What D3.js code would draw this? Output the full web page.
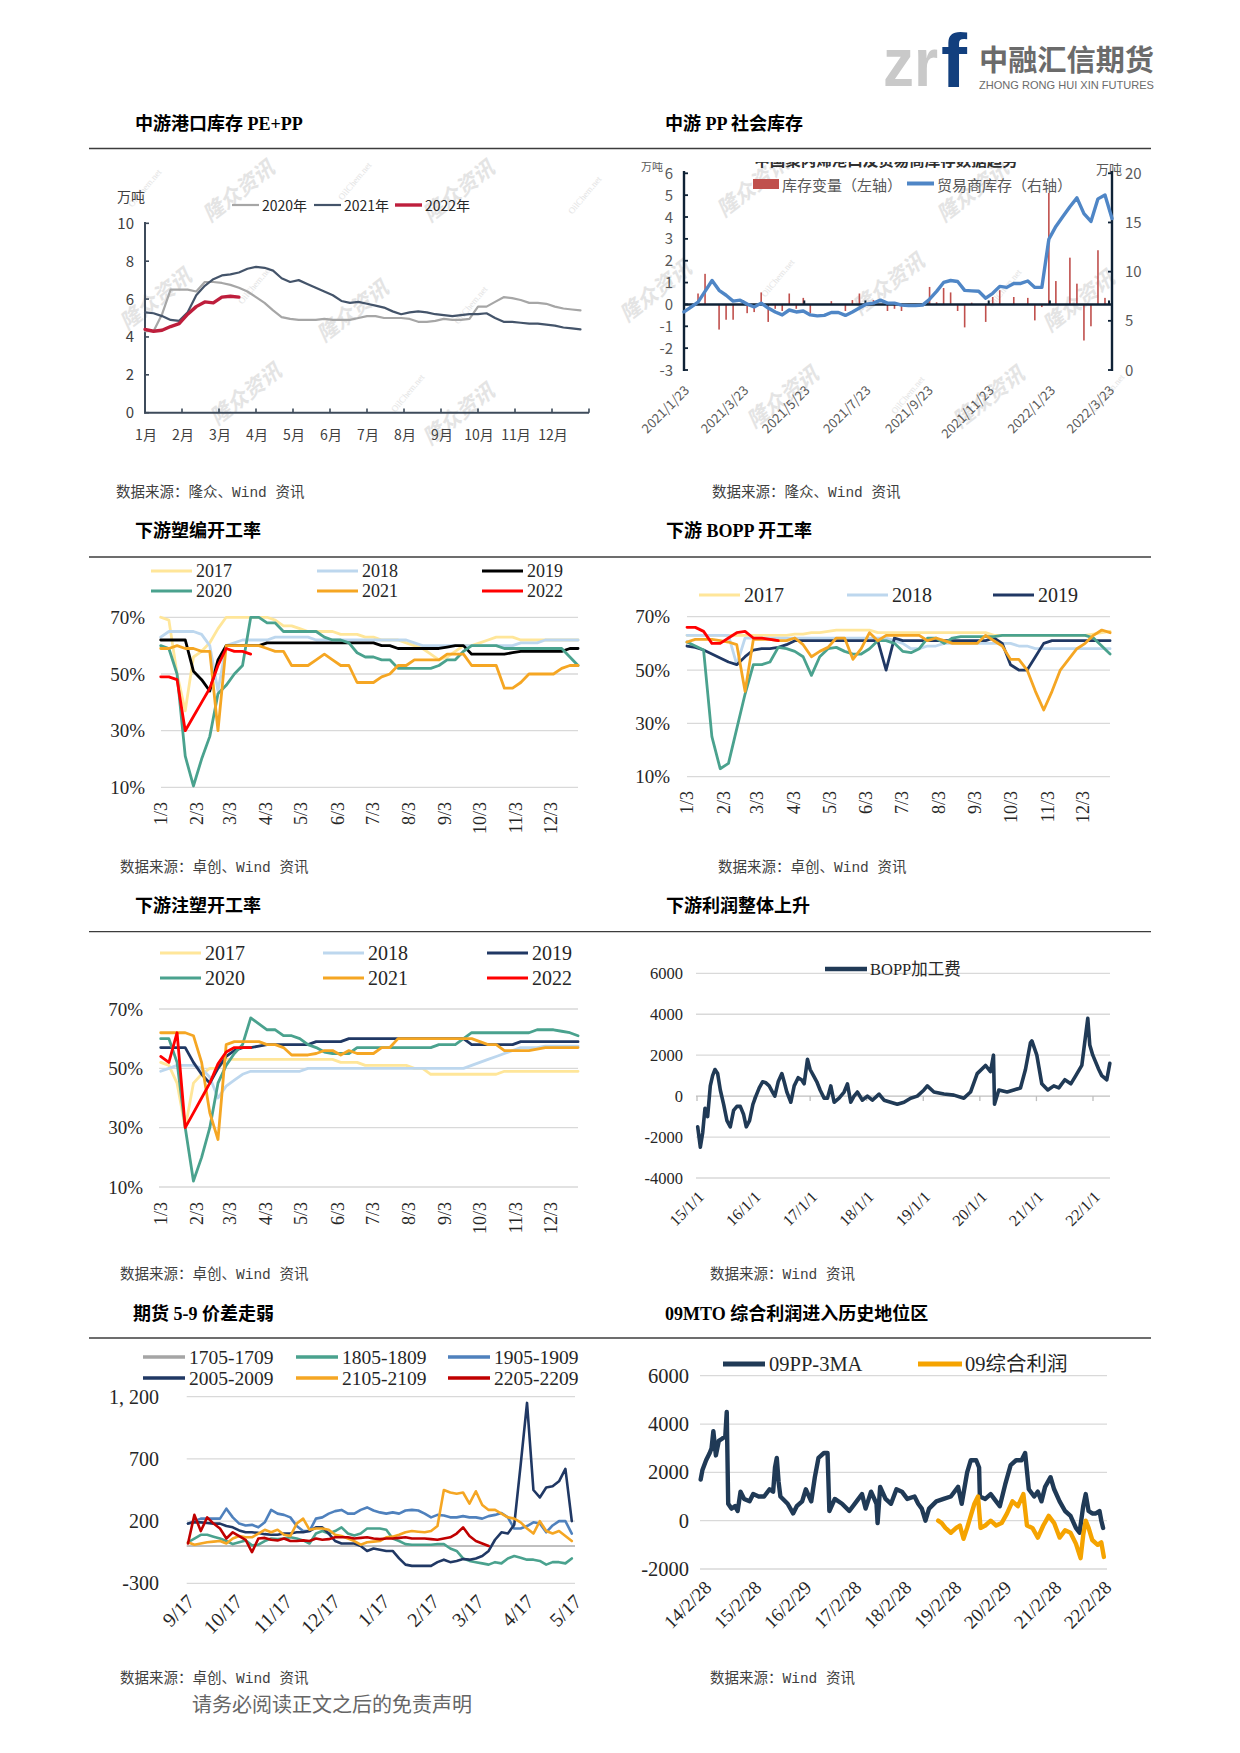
<!DOCTYPE html>
<html><head><meta charset="utf-8"><title>PP</title>
<script src="https://cdn.jsdelivr.net/npm/d3@7/dist/d3.min.js"></script>
<style>html,body{margin:0;padding:0;background:#fff}svg{display:block}</style>
</head><body>
<svg id="page" width="1240" height="1753" viewBox="0 0 1240 1753"></svg>
<script>
// ---------------- DATA ----------------
// Chart 1: 中游港口库存 PE+PP (weekly, 万吨)
const c1Months = ["1月","2月","3月","4月","5月","6月","7月","8月","9月","10月","11月","12月"];
const c1Ticks = [0,2,4,6,8,10];
const c1Y2020 = [4.3,4.3,5.2,6.5,6.5,6.5,6.4,6.9,6.9,6.85,6.75,6.6,6.4,6.1,5.8,5.4,5.05,4.95,4.9,4.9,4.9,4.95,4.9,4.9,4.9,5.0,5.1,5.1,5.0,5.0,5.0,4.95,4.8,4.8,4.85,4.95,4.9,4.9,4.95,5.6,5.6,5.85,6.1,6.05,5.95,5.8,5.8,5.75,5.6,5.5,5.45,5.4];
const c1Y2021 = [5.3,5.25,5.1,4.9,4.85,5.3,6.2,6.7,7.05,7.25,7.3,7.4,7.6,7.7,7.65,7.5,7.1,6.9,7.0,6.8,6.6,6.4,6.2,5.9,5.8,5.85,5.75,5.65,5.55,5.35,5.2,5.3,5.35,5.3,5.2,5.15,5.1,5.15,5.2,5.2,5.25,5.0,4.8,4.8,4.75,4.7,4.7,4.65,4.6,4.5,4.45,4.4];
const c1Y2022 = [4.4,4.3,4.35,4.55,4.7,5.2,5.6,5.85,5.8,6.1,6.15,6.1];

// Chart 2: 中游 PP 社会库存 (weekly from 2021/1/23)
const c2Start = "2021-01-23";
const c2DateLabels = ["2021/1/23","2021/3/23","2021/5/23","2021/7/23","2021/9/23","2021/11/23","2022/1/23","2022/3/23"];
const c2LeftTicks = [6,5,4,3,2,1,0,-1,-2,-3];
const c2RightTicks = [20,15,10,5,0];
const c2Stock = [5.9,6.4,6.9,8.0,9.1,8.1,7.6,7.0,7.1,6.7,6.4,6.8,6.3,5.9,5.6,6.1,5.9,6.0,5.6,5.5,5.55,5.85,5.85,5.55,5.9,6.3,6.7,6.8,7.1,6.8,6.8,6.6,6.55,6.55,6.6,7.2,8.0,8.9,9.1,9.0,8.1,8.05,8.0,7.3,7.8,8.5,8.4,8.8,8.8,9.05,8.4,8.4,13.3,14.6,15.6,16.6,17.5,15.9,15.1,17.4,17.8,15.4];
const c2Change = [0,0,0.5,1.4,0,-1.15,-0.7,-0.7,0,-0.4,-0.35,0.55,-0.8,-0.2,-0.3,0.5,-0.2,0.3,-0.4,0,0,0.15,0,-0.3,0.2,0.5,0,0.2,0,-0.3,-0.2,-0.3,0,0,0,0.8,0.1,0.75,0.55,-0.3,-1.05,0.08,0,-0.8,0.34,0.65,0,0.34,0,0.3,-0.73,-0.12,5.1,1.07,0,2.14,0.95,-1.65,-1.0,2.48,0.3,0];

// Charts 3-5: weekly operating rates from 1/3 (%)
const mdLabels = ["1/3","2/3","3/3","4/3","5/3","6/3","7/3","8/3","9/3","10/3","11/3","12/3"];
const rateTicks = [10,30,50,70];
const yearNames = ["2017","2018","2019","2020","2021","2022"];
const c3_2017 = [70,69,50,37,56,58,61,66,70,70,70,70,70,70,69,67,67,66,65,65,65,65,64,64,64,63,63,62,62,62,61,60,59,57,55,56,58,60,60,61,62,63,63,63,62,62,62,62,62,62,62,62];
const c3_2018 = [63,65,65,65,65,64,60,44,60,61,62,62,62,62,63,63,63,63,63,62,62,62,62,62,62,62,62,62,62,62,62,61,60,60,60,60,60,60,60,60,60,60,60,60,61,61,61,62,62,62,62,62];
const c3_2019 = [62,62,62,62,51,48,44,55,60,60,60,60,60,61,61,61,61,61,61,61,61,61,61,61,61,61,61,60,60,59,59,59,59,59,59,59.5,60,60,57,57,57,57,57,57.5,58,58,58,58,58,58,59,59];
const c3_2020 = [60,59,50,21,10.5,20,28,43,46,50,53,70,70,68,68,65,65,65,65,65,63,62,62,61,57.5,56,56,55,55,52,52,52,52,52,53,55,55,58,60,60,60,60,59,59,59,59,59,59,59,59,56,53];
const c3_2021 = [59,59,60,59,59,58,58,30,60,60,60,60,60,59,58,58,53,53,53,55,57,55,53,53,47,47,47,49,50,53,53,55,55,55,55,57,57,57,53,53,53,53,45,45,47,50,50,50,50,52,53,53];
const c3_2022 = [49,49,48,30,35,40,45,53,59,58,58,57];

const c4_2017 = [63,63,63,63,63,63,63,63,63,63,63,63,63,63.5,63.5,64,64,64.5,65,65,65,65,65,64,64,64,64,64,64,64,64,64,64,64,64,64,64,63,63,63,63,63,63,63,63,63,63,63,63,63.5,64,64.5];
const c4_2018 = [63,63,63,63,63,63,52,62,62,62,62,62,62,62,62,62,62,62,62,62,62,62,62,62,62,61,60,58,58,59,59,60,60,60,60,60,60,60,60,60,59,59,58,58,58,58,58,58,58,58,58,58];
const c4_2019 = [59,58.5,57.5,56,54.5,53,52,55,57.5,58,58,58.5,59.5,61,61,61,61,61,61,61,61,61,61,61,50,62,61,61,61,61,61,61,61,61,61,61,61,62,60,52,50,50,55,60,61,61,61,61,61,61,61,61];
const c4_2020 = [60.5,59,57.5,25,13,15,28,41,52,52,53,58.5,58,57,55,48,55,58,58.5,57,56,56,58,61,61,60,57,56.5,58,62,62,60,62,62.5,62.5,62.5,62.5,62.5,63,63,63,63,63,63,63,63,63,63,63,62,59,56];
const c4_2021 = [60.5,61.5,61.5,61.5,61,60.5,59.5,42,61.5,61.5,61.5,61,61,62,59.5,55,57,58.5,62,62,54,58,64,61,63,63,63,63,63,61,62,61,60,60,60,60,63,61,59,54,54,50,42,35,42,50,54,58,60,63,65,64];
const c4_2022 = [66,66,64.5,60,60,62,64,64.5,62,62,61.5,61];

const c5_2017 = [52,51,45,30,45,48,50,50,53,53,53,53,53,53,53,53,53,53,53,53,53,53,52,52,52,51,51,51,51,51,51,50,50,48,48,48,48,48,48,48,48,48,49,49,49,49,49,49,49,49,49,49];
const c5_2018 = [49,50,51,51,51,50,47,40,44,46,48,49,49,49,49,49,49,49,50,50,50,50,50,50,50,50,50,50,50,50,50,50,50,50,50,50,50,50,51,52,53,54,55,56,57,57,57,57.5,57.5,57.5,57.5,57.5];
const c5_2019 = [57,57,57,57,52,48,45,50,54,56,57,57,57.5,58,58,58,58,58,58,59,59,59,59,60,60,60,60,60,60,60,60,60,60,60,60,60,60,60,58,58,58,58,58,58,59,59,59,59,59,59,59,59];
const c5_2020 = [60,60,52,30,12,20,30,45,51,55,58,67,65,63,63,61,61,60,58,57,55.5,55,55,55,57,57,57,57,57,57,57,57,57,57,58,58,58,60,62,62,62,62,62,62,62,62,63,63,63,62.5,62,61];
const c5_2021 = [62,62,62,62,61,52,35,26,58,59,59,59,59,58,58,57,54.5,54.5,54.5,55,56,56,54.5,56,55,55,55,57,57,60,60,60,60,60,60,60,60,60,60,59,58,58,56,56,56,56,56.5,57,57,57,57,57];
const c5_2022 = [54,52,62,30,35,40,45,51.5,55.5,57,57,57];

// Chart 6: BOPP加工费 (time in decimal years, value)
const c6Labels = ["15/1/1","16/1/1","17/1/1","18/1/1","19/1/1","20/1/1","21/1/1","22/1/1"];
const c6Ticks = [-4000,-2000,0,2000,4000,6000];
const c6T = [2015.012,2015.059,2015.100,2015.141,2015.188,2015.235,2015.276,2015.318,2015.365,2015.412,2015.471,2015.529,2015.588,2015.647,2015.706,2015.765,2015.824,2015.871,2015.929,2015.988,2016.041,2016.100,2016.159,2016.218,2016.276,2016.335,2016.376,2016.435,2016.500,2016.541,2016.588,2016.659,2016.718,2016.788,2016.847,2016.894,2016.953,2017.000,2017.059,2017.118,2017.176,2017.247,2017.306,2017.365,2017.424,2017.512,2017.600,2017.659,2017.718,2017.776,2017.835,2017.924,2018.012,2018.100,2018.218,2018.306,2018.424,2018.541,2018.659,2018.776,2018.894,2019.012,2019.071,2019.188,2019.365,2019.541,2019.718,2019.835,2019.953,2020.100,2020.188,2020.241,2020.259,2020.335,2020.482,2020.600,2020.718,2020.806,2020.894,2020.920,2021.007,2021.095,2021.201,2021.307,2021.396,2021.502,2021.608,2021.696,2021.802,2021.908,2021.943,2021.996,2022.102,2022.155,2022.244,2022.297];
const c6V = [-1500,-2500,-1800,-600,-1000,500,1000,1300,1100,300,-400,-1200,-1500,-700,-500,-500,-900,-1500,-1200,-400,0,400,700,650,500,200,0,700,1100,700,200,-300,500,900,800,600,1800,1300,1000,700,300,-100,-100,500,-300,-100,200,600,-300,0,200,-200,0,-200,100,-200,-300,-400,-300,-100,0,300,500,200,100,50,-100,200,1100,1500,1200,2000,-400,300,200,300,400,1300,2600,2700,2000,600,300,500,400,800,600,1000,1500,3800,2500,2000,1300,1000,800,1600];

// Chart 7: 期货 5-9 价差 (every 4 days from 9/17)
const c7Start = "2021-09-17";
const c7Labels = ["9/17","10/17","11/17","12/17","1/17","2/17","3/17","4/17","5/17"];
const c7Ticks = [-300,200,700,1200];
const s1705 = [];
const s1805 = [30,60,90,90,75,60,40,15,30,45,5,10,40,60,55,60,70,60,45,20,100,120,100,120,150,100,85,100,140,140,140,130,60,40,15,10,10,10,10,15,15,-20,-40,-100,-120,-130,-140,-150,-130,-140,-100,-80,-95,-110,-110,-120,-150,-130,-130,-140,-100];
const s1905 = [180,200,220,220,220,220,300,230,180,165,170,150,190,290,260,250,230,160,120,120,220,230,260,280,290,260,260,290,310,285,270,260,270,260,285,290,285,260,230,250,245,230,230,240,230,230,220,240,250,265,230,140,140,160,190,180,110,165,200,200,100];
const s2005 = [180,190,190,185,180,180,160,150,125,110,110,105,95,90,90,100,100,110,110,120,150,150,100,40,20,20,20,0,-40,-20,-30,-40,-40,-100,-150,-160,-160,-160,-160,-130,-110,-130,-120,-105,-110,-100,-80,-40,50,110,100,170,650,1150,450,390,470,480,520,620,200];
const s2105 = [30,10,20,30,35,40,20,60,80,70,70,100,130,110,130,90,80,180,220,130,140,140,130,90,80,60,40,10,30,35,40,70,75,90,110,120,115,110,120,160,450,430,420,430,340,440,330,290,290,260,230,220,190,140,100,200,120,100,120,80,40];
const s2205 = [20,250,120,230,180,140,60,110,80,50,-50,60,65,50,45,60,40,40,45,40,60,50,55,70,70,70,60,65,70,60,55,60,60,65,70,60,60,60,55,50,60,70,100,150,80,40,20,0];

// Chart 8: 09MTO (decimal years)
const c8Labels = ["14/2/28","15/2/28","16/2/29","17/2/28","18/2/28","19/2/28","20/2/29","21/2/28","22/2/28"];
const c8Ticks = [-2000,0,2000,4000,6000];
const n8T = [2014.073,2014.109,2014.182,2014.254,2014.291,2014.327,2014.378,2014.436,2014.508,2014.566,2014.595,2014.624,2014.689,2014.762,2014.813,2014.871,2014.943,2015.052,2015.124,2015.233,2015.342,2015.451,2015.523,2015.560,2015.596,2015.632,2015.668,2015.813,2015.922,2015.995,2016.103,2016.176,2016.285,2016.357,2016.430,2016.539,2016.611,2016.647,2016.756,2016.901,2017.046,2017.191,2017.300,2017.372,2017.481,2017.590,2017.612,2017.663,2017.771,2017.880,2017.989,2018.098,2018.206,2018.351,2018.424,2018.496,2018.569,2018.641,2018.787,2018.932,2019.077,2019.222,2019.294,2019.403,2019.475,2019.584,2019.642,2019.657,2019.766,2019.874,2019.983,2020.056,2020.164,2020.273,2020.382,2020.491,2020.563,2020.636,2020.744,2020.817,2020.889,2020.962,2021.071,2021.143,2021.252,2021.361,2021.470,2021.578,2021.651,2021.724,2021.774,2021.832,2021.905,2021.977,2022.050,2022.086,2022.122];
const n8V = [1700,2100,2500,2800,3000,3700,2700,3300,3400,3500,4500,700,500,600,400,1200,900,800,1100,1000,1000,1300,1200,2200,2600,1600,1000,700,300,600,800,1300,800,1800,2600,2800,2800,400,900,700,400,800,1100,500,1200,700,-100,1400,900,700,1300,1200,900,1000,700,500,0,500,800,900,1000,1400,700,2000,2500,2500,2200,1000,900,1100,800,600,1500,2300,2500,2500,2800,1300,1000,1200,800,1400,1800,1300,800,400,200,-300,-500,600,1100,400,300,300,400,0,-300];
const o8T = [2018.823,2018.895,2018.968,2019.077,2019.185,2019.258,2019.330,2019.403,2019.475,2019.548,2019.620,2019.671,2019.766,2019.874,2019.983,2020.092,2020.201,2020.309,2020.418,2020.527,2020.599,2020.708,2020.817,2020.926,2021.034,2021.143,2021.252,2021.361,2021.470,2021.578,2021.672,2021.724,2021.774,2021.832,2021.905,2022.013,2022.086,2022.137];
const o8V = [0,-100,-300,-500,-300,-200,-750,-300,200,700,1000,-300,-200,0,-200,-100,300,800,600,1100,-200,-300,-700,-200,200,-100,-700,-400,-500,-950,-1550,-600,0,-300,-800,-1000,-900,-1500];

// ---------------- DRAW ----------------
const CJK='"Noto Sans CJK SC","Noto Sans",sans-serif';
const SERIF='"Liberation Serif","Noto Sans CJK SC",serif';
const MONO='"Liberation Mono","Noto Sans CJK SC",monospace';
const svg=d3.select('#page');
svg.append('rect').attr('width',1240).attr('height',1753).attr('fill','#fff');

function text(g,x,y,s,o){o=o||{};const t=g.append('text').attr('x',x).attr('y',y).text(s)
 .attr('font-family',o.ff||CJK).attr('font-size',o.fs||14).attr('fill',o.fill||'#000');
 if(o.fw)t.attr('font-weight',o.fw); if(o.anchor)t.attr('text-anchor',o.anchor);
 if(o.tr)t.attr('transform',o.tr); if(o.ls!=null)t.attr('letter-spacing',o.ls);
 if(o.tl)t.attr('textLength',o.tl).attr('lengthAdjust','spacingAndGlyphs');
 if(o.dy)t.attr('dy',o.dy); if(o.fst)t.attr('font-style',o.fst);
 return t;}
function seg(g,x1,y1,x2,y2,c,w){return g.append('line').attr('x1',x1).attr('y1',y1).attr('x2',x2).attr('y2',y2).attr('stroke',c).attr('stroke-width',w);}
function rot(g,x,y,s,deg,o){o=Object.assign({anchor:'end',dy:'0.35em'},o||{});o.tr=`translate(${x},${y}) rotate(${deg})`;return text(g,0,0,s,o);}
function path(g,pts,c,w){return g.append('path').attr('d',d3.line().defined(p=>p[1]!=null)(pts)).attr('fill','none').attr('stroke',c).attr('stroke-width',w).attr('stroke-linejoin','round').attr('stroke-linecap','round');}
function wm(g,x,y,big){ if(big) text(g,0,0,'隆众资讯',{fs:21,fw:'bold',fill:'#E4E4E4',fst:'italic',anchor:'middle',tr:`translate(${x},${y}) rotate(-38)`});
 else text(g,0,0,'OilChem.net',{ff:SERIF,fs:9,fill:'#E4E4E4',anchor:'middle',tr:`translate(${x},${y}) rotate(-50)`});}

// Header logo
const hd=svg.append('g');
text(hd,883,86,'zr',{ff:'"Liberation Sans",Arial,sans-serif',fs:69,fw:'bold',fill:'#C9C9C9',tl:55});
text(hd,941,87,'f',{ff:'"Liberation Sans",Arial,sans-serif',fs:76,fw:'bold',fill:'#123F7E',tl:26});
text(hd,979,71,'中融汇信期货',{fs:29,fw:'bold',fill:'#6B6B6B',tl:175});
text(hd,979,89,'ZHONG RONG HUI XIN FUTURES',{ff:'"Liberation Sans",Arial,sans-serif',fs:11,fill:'#6B6B6B',tl:175});

// Titles & separators
const TF='"Liberation Serif","Noto Sans CJK SC",serif';
[[135,130,'中游港口库存 PE+PP'],[665,130,'中游 PP 社会库存'],[135,537,'下游塑编开工率'],[666,537,'下游 BOPP 开工率'],
 [135,912,'下游注塑开工率'],[666,912,'下游利润整体上升'],[133,1320,'期货 5-9 价差走弱'],[665,1320,'09MTO 综合利润进入历史地位区']]
 .forEach(d=>text(svg,d[0],d[1],d[2],{ff:TF,fs:18,fw:'bold',fill:'#000'}));
[148.5,557,931.7,1338].forEach(y=>seg(svg,89,y,1151,y,'#3C3C3C',1.3));

// Source lines
const srcA='数据来源：隆众、Wind 资讯', srcB='数据来源：卓创、Wind 资讯', srcC='数据来源：Wind 资讯';
[[116,497,srcA],[712,497,srcA],[120,872,srcB],[718,872,srcB],[120,1279,srcB],[710,1279,srcC],[120,1683,srcB],[710,1683,srcC]]
 .forEach(d=>text(svg,d[0],d[1],d[2],{ff:MONO,fs:14.5,fill:'#3F3F3F'}));
text(svg,192,1712,'请务必阅读正文之后的免责声明',{fs:20,fill:'#666666'});

// ---------- Chart 1 ----------
(function(){
 const g=svg.append('g');
 [[243,197,1],[463,197,1],[160,305,1],[357,317,1],[463,420,1],[250,400,1],[147,190,0],[357,183,0],[257,287,0],[473,307,0],[410,395,0]].forEach(d=>wm(g,d[0],d[1],d[2]));
 const x=d3.scaleLinear().domain([0,12]).range([145,589]);
 const y=d3.scaleLinear().domain([0,10]).range([412.7,223.3]);
 const wk=i=>x(i*12/52);
 const AX='#3E4B5B';
 seg(g,145,222,145,413.5,AX,2); seg(g,144,412.7,589,412.7,AX,2);
 c1Ticks.forEach(v=>{seg(g,145,y(v),149,y(v),AX,1.6); text(g,134,y(v)+5.5,String(v),{fs:15,fill:'#404040',anchor:'end'});});
 d3.range(13).forEach(m=>seg(g,x(m),412.7,x(m),408.5,AX,1.6));
 c1Months.forEach((s,m)=>text(g,x(m)+1,440,s,{fs:14,fill:'#404040',anchor:'middle'}));
 text(g,117,202,'万吨',{fs:14,fill:'#404040'});
 path(g,c1Y2020.map((v,i)=>[wk(i),y(v)]),'#A6A6A6',2.2);
 path(g,c1Y2021.map((v,i)=>[wk(i),y(v)]),'#44546A',2.2);
 path(g,c1Y2022.map((v,i)=>[wk(i),y(v)]),'#BE1E3C',3.4);
 const lg=[['2020年','#A6A6A6',232,2.2],['2021年','#44546A',314,2.2],['2022年','#BE1E3C',395,3.4]];
 lg.forEach(d=>{seg(g,d[2],205,d[2]+27,205,d[1],d[3]); text(g,d[2]+30,210.5,d[0],{fs:14,fill:'#262626'});});
})();

// ---------- Chart 2 ----------
(function(){
 const defs=svg.append('defs');
 defs.append('clipPath').attr('id','c2clip').append('rect').attr('x',560).attr('y',162).attr('width',620).attr('height',320);
 const g=svg.append('g').attr('clip-path','url(#c2clip)');
 [[757,192,1],[977,197,1],[660,297,1],[893,290,1],[787,403,1],[993,403,1],[1083,307,1],[587,197,0],[780,280,0],[910,397,0],[1007,290,0],[1110,395,0]].forEach(d=>wm(g,d[0],d[1],d[2]));
 text(g,886,165.5,'中国聚丙烯港口及贸易商库存数据趋势',{fs:15.5,fw:'bold',fill:'#303030',anchor:'middle'});
 text(g,641,171,'万吨',{fs:11,fill:'#595959'});
 text(g,1096,174,'万吨',{fs:13,fill:'#595959'});
 const t0=d3.isoParse(c2Start);
 const dates=c2Stock.map((v,i)=>d3.timeDay.offset(t0,7*i));
 const x=d3.scaleTime().domain([dates[0],dates[dates.length-1]]).range([684,1112]);
 const yL=d3.scaleLinear().domain([-3,6]).range([370,173.3]);
 const yR=d3.scaleLinear().domain([0,20]).range([370,173.3]);
 const AX='#0F2236';
 c2Change.forEach((v,i)=>{ if(v!==0) g.append('rect').attr('x',x(dates[i])-0.8).attr('width',1.6)
   .attr('y',Math.min(yL(v),yL(0))).attr('height',Math.abs(yL(v)-yL(0))).attr('fill','#C0504D');});
 seg(g,684,171,684,371,AX,2.4); seg(g,1112,171,1112,371,AX,2.4);
 seg(g,683,yL(0),1113,yL(0),AX,2.4);
 c2LeftTicks.forEach(v=>{seg(g,684,yL(v),688,yL(v),AX,1.8); text(g,673,yL(v)+5.5,String(v),{fs:15,fill:'#595959',anchor:'end'});});
 c2RightTicks.forEach(v=>{seg(g,1108,yR(v),1112,yR(v),AX,1.8); text(g,1125,yR(v)+5.5,String(v),{fs:15,fill:'#595959'});});
 c2DateLabels.forEach(s=>{const p=s.split('/');const d=new Date(+p[0],+p[1]-1,+p[2]);const xx=x(d);
   seg(g,xx,yL(0),xx,yL(0)-4,AX,2);
   rot(g,xx+3,388,s,-45,{fs:13,fill:'#595959'});});
 path(g,c2Stock.map((v,i)=>[x(dates[i]),yR(v)]),'#4F86C6',3.4);
 g.append('rect').attr('x',753).attr('y',179).attr('width',26).attr('height',10).attr('fill','#C0504D');
 text(g,782,190.5,'库存变量（左轴）',{fs:15,fill:'#595959'});
 seg(g,907,183.5,934,183.5,'#4F86C6',4);
 text(g,937,190.5,'贸易商库存（右轴）',{fs:15,fill:'#595959'});
})();

// ---------- Charts 3-5 ----------
function yearChart(o){
 const g=svg.append('g');
 const x=d3.scaleTime().domain([new Date(2017,0,3),new Date(2017,11,31)]).range(o.xr);
 const y=d3.scaleLinear().domain([10,70]).range(o.yr);
 rateTicks.forEach(v=>{seg(g,o.gx[0],y(v),o.gx[1],y(v),'#D9D9D9',1.3);
   text(g,o.ylx,y(v)+6.5,v+'%',{ff:SERIF,fs:19,fill:'#262626',anchor:'end'});});
 mdLabels.forEach((s,m)=>rot(g,x(new Date(2017,m,3)),o.xlt,s,-90,{ff:SERIF,fs:18,fill:'#262626'}));
 o.series.forEach(s=>path(g,s.d.map((v,i)=>[x(new Date(2017,0,3+7*i)),y(v)]),s.c,2.8));
 const lfs=o.lfs||20;
 o.legend.forEach(l=>{seg(g,l.x,l.y,l.x+41,l.y,l.c,3); text(g,l.x+45,l.y+lfs*0.33,l.t,{ff:SERIF,fs:lfs,fill:'#262626'});});
}
const colY={"2017":"#FFE699","2018":"#BDD7EE","2019b":"#000000","2019":"#203864","2020":"#4AA28E","2021":"#F5A623","2022":"#FF0000"};
yearChart({xr:[160.7,583.9],gx:[161,578],yr:[787.4,617.3],ylx:145,xlt:802,lfs:18,
 series:[{d:c3_2017,c:colY["2017"]},{d:c3_2018,c:colY["2018"]},{d:c3_2019,c:colY["2019b"]},{d:c3_2020,c:colY["2020"]},{d:c3_2021,c:colY["2021"]},{d:c3_2022,c:colY["2022"]}],
 legend:[{x:151,y:571,t:yearNames[0],c:colY["2017"]},{x:317,y:571,t:yearNames[1],c:colY["2018"]},{x:482,y:571,t:yearNames[2],c:colY["2019b"]},
   {x:151,y:591,t:yearNames[3],c:colY["2020"]},{x:317,y:591,t:yearNames[4],c:colY["2021"]},{x:482,y:591,t:yearNames[5],c:colY["2022"]}]});
yearChart({xr:[687,1116],gx:[687,1110],yr:[776.7,616.7],ylx:670,xlt:791,
 series:[{d:c4_2017,c:colY["2017"]},{d:c4_2018,c:colY["2018"]},{d:c4_2019,c:colY["2019"]},{d:c4_2020,c:colY["2020"]},{d:c4_2021,c:colY["2021"]},{d:c4_2022,c:colY["2022"]}],
 legend:[{x:699,y:595,t:yearNames[0],c:colY["2017"]},{x:847,y:595,t:yearNames[1],c:colY["2018"]},{x:993,y:595,t:yearNames[2],c:colY["2019"]}]});
yearChart({xr:[160.7,583.9],gx:[159,578],yr:[1187,1009],ylx:143,xlt:1202,
 series:[{d:c5_2017,c:colY["2017"]},{d:c5_2018,c:colY["2018"]},{d:c5_2019,c:colY["2019"]},{d:c5_2020,c:colY["2020"]},{d:c5_2021,c:colY["2021"]},{d:c5_2022,c:colY["2022"]}],
 legend:[{x:160,y:953,t:yearNames[0],c:colY["2017"]},{x:323,y:953,t:yearNames[1],c:colY["2018"]},{x:487,y:953,t:yearNames[2],c:colY["2019"]},
   {x:160,y:978,t:yearNames[3],c:colY["2020"]},{x:323,y:978,t:yearNames[4],c:colY["2021"]},{x:487,y:978,t:yearNames[5],c:colY["2022"]}]});

// ---------- Chart 6 ----------
(function(){
 const g=svg.append('g');
 const x=d3.scaleLinear().domain([2015,2022]).range([697,1093]);
 const y=d3.scaleLinear().domain([-4000,6000]).range([1178,973.3]);
 c6Ticks.forEach(v=>{seg(g,696,y(v),1110,y(v),v===0?'#BFBFBF':'#D9D9D9',1.3);
   text(g,683,y(v)+5.5,String(v),{ff:SERIF,fs:16.5,fill:'#262626',anchor:'end'});});
 c6Labels.forEach((s,k)=>{const xx=x(2015+k); seg(g,xx,y(0),xx,y(0)+5,'#BFBFBF',1.3); rot(g,xx+4,1194,s,-45,{ff:SERIF,fs:16,fill:'#262626'});});
 path(g,c6T.map((t,i)=>[x(t),y(c6V[i])]),'#203A56',3.6);
 seg(g,825,969,867,969,'#203A56',4.5);
 text(g,870,974.5,'BOPP加工费',{ff:SERIF,fs:16.5,fill:'#262626'});
})();

// ---------- Chart 7 ----------
(function(){
 const g=svg.append('g');
 const t0=d3.isoParse(c7Start);
 const x=d3.scaleTime().domain([t0,d3.isoParse("2022-05-17")]).range([188,575]);
 const y=d3.scaleLinear().domain([-300,1200]).range([1583.3,1396.7]);
 c7Ticks.forEach(v=>{seg(g,186.7,y(v),575,y(v),'#D9D9D9',1.3);
   text(g,159,y(v)+7,v===1200?'1, 200':String(v),{ff:SERIF,fs:20,fill:'#262626',anchor:'end'});});
 seg(g,186.7,y(0),575,y(0),'#BFBFBF',2);
 const ld=[new Date(2021,8,17),new Date(2021,9,17),new Date(2021,10,17),new Date(2021,11,17),new Date(2022,0,17),new Date(2022,1,17),new Date(2022,2,17),new Date(2022,3,17),new Date(2022,4,17)];
 c7Labels.forEach((s,k)=>rot(g,x(ld[k])+3,1598,s,-45,{ff:SERIF,fs:20,fill:'#262626'}));
 const ser=[[s1705,'#A5A5A5','1705-1709'],[s1805,'#4AA28E','1805-1809'],[s1905,'#4F81BD','1905-1909'],[s2005,'#203864','2005-2009'],[s2105,'#F5A623','2105-2109'],[s2205,'#C00000','2205-2209']];
 ser.forEach(s=>{ if(s[0].length) path(g,s[0].map((v,i)=>[x(d3.timeDay.offset(t0,4*i)),y(v)]),s[1],2.6);});
 const lx=[143,296,448];
 ser.forEach((s,k)=>{const xx=lx[k%3], yy=k<3?1357:1378; seg(g,xx,yy,xx+42,yy,s[1],3.5); text(g,xx+46,yy+6.5,s[2],{ff:SERIF,fs:19.5,fill:'#262626'});});
})();

// ---------- Chart 8 ----------
(function(){
 const g=svg.append('g');
 const x=d3.scaleLinear().domain([2014.16,2022.16]).range([705,1105]);
 const y=d3.scaleLinear().domain([-2000,6000]).range([1569,1375.7]);
 c8Ticks.forEach(v=>{seg(g,700,y(v),1107,y(v),'#D9D9D9',1.3);
   text(g,689,y(v)+7,String(v),{ff:SERIF,fs:20.5,fill:'#262626',anchor:'end'});});
 c8Labels.forEach((s,k)=>rot(g,x(2014.16+k)+3,1584,s,-45,{ff:SERIF,fs:19,fill:'#262626'}));
 path(g,n8T.map((t,i)=>[x(t),y(n8V[i])]),'#203A56',4.4);
 path(g,o8T.map((t,i)=>[x(t),y(o8V[i])]),'#F5A300',4.4);
 seg(g,723,1364,765,1364,'#203A56',5);
 text(g,769,1371,'09PP-3MA',{ff:SERIF,fs:20.5,fill:'#262626'});
 seg(g,918,1364,962,1364,'#F5A300',5);
 text(g,965,1371,'09综合利润',{ff:SERIF,fs:20.5,fill:'#262626'});
})();
</script></body></html>
